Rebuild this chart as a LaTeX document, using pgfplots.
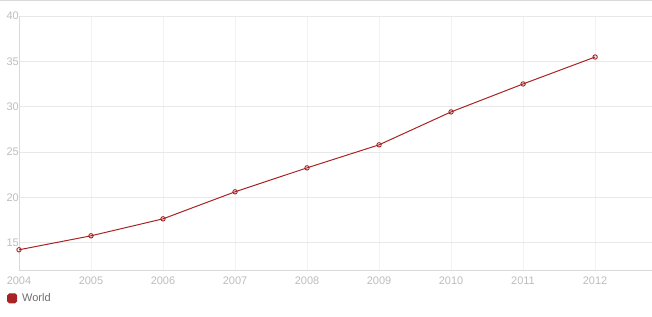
\documentclass[border=0pt]{standalone}
\usepackage{pgfplots}
\pgfplotsset{compat=1.18}
\usepackage{fontspec}
\setmainfont{Liberation Sans}
\definecolor{serie}{HTML}{A82424}
\definecolor{ticktxt}{HTML}{BDBDBD}
\definecolor{gridh}{HTML}{E8E8E8}
\definecolor{gridv}{HTML}{F2F2F2}
\definecolor{axln}{HTML}{D9D9D9}
\definecolor{legtxt}{HTML}{6E6E6E}
\begin{document}
\begin{tikzpicture}[x=1pt,y=1pt]
\path[use as bounding box] (0,0) rectangle (652,316);
\draw[axln,line width=0.8pt] (0,315.5) -- (652,315.5);
\begin{axis}[
  at={(19pt,46pt)}, anchor=south west,
  scale only axis, width=633pt, height=254pt,
  xmin=2004, xmax=2012.79, ymin=12, ymax=40,
  xtick={2004,...,2012}, ytick={15,20,...,40},
  xticklabel style={/pgf/number format/1000 sep={}},
  /pgf/number format/assume math mode=true,
  tick label style={font=\fontsize{11}{13}\selectfont, text=ticktxt},
  yticklabel style={inner sep=0pt, xshift=0pt},
  xticklabel style={yshift=-3.5pt},
  major tick length=0pt,
  axis x line*=bottom, axis y line*=left,
  axis line style={axln, line width=0.8pt, -},
  xmajorgrids=true, ymajorgrids=true,
  x grid style={gridv, line width=0.8pt},
  y grid style={gridh, line width=0.8pt},
  legend style={draw=none, fill=none, at={(-0.019,-0.088)}, anchor=north west,
    font=\fontsize{11}{13}\selectfont, text=legtxt, inner sep=0pt,
    nodes={inner sep=1pt}, column sep=4pt},
  legend image code/.code={\fill[serie, rounded corners=1.8pt] (0pt,-4.5pt) rectangle (9pt,4.5pt);},
]
\addplot[serie, line width=1pt, mark=o, mark size=2.2pt,
  mark options={fill=white, line width=0.9pt}] coordinates {
  (2004,14.23) (2005,15.77) (2006,17.64) (2007,20.62) (2008,23.26)
  (2009,25.80) (2010,29.43) (2011,32.51) (2012,35.48)};
\addlegendentry{World}
\end{axis}
\end{tikzpicture}
\end{document}
